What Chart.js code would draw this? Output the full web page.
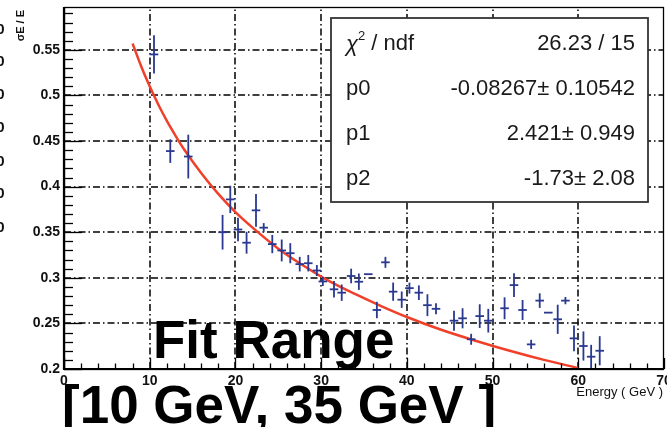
<!DOCTYPE html>
<html><head><meta charset="utf-8">
<script src="https://cdn.jsdelivr.net/npm/chart.js@4/dist/chart.umd.min.js"></script>
<style>html,body{margin:0;padding:0;background:#fff;overflow:hidden}canvas{display:block}</style>
</head><body>
<canvas id="c" width="667" height="427"></canvas>
<script>
// ---- data ----
const energy = [10.5, 12.4, 14.5, 18.5, 19.4, 20.3, 21.3, 22.4, 23.3, 24.3, 25.4, 26.4, 27.5, 28.5, 29.5, 30.2, 31.5, 32.4, 33.5, 34.4, 35.5, 36.5, 37.5, 38.4, 39.4, 40.3, 41.4, 42.4, 43.4, 45.5, 46.5, 47.5, 48.5, 49.5, 51.4, 52.5, 53.5, 54.5, 55.5, 56.5, 57.6, 58.5, 59.5, 60.6, 61.5, 62.5];
const resolution = [0.545, 0.439, 0.433, 0.350, 0.386, 0.353, 0.3385, 0.374, 0.355, 0.337, 0.330, 0.327, 0.315, 0.316, 0.308, 0.296, 0.2874, 0.2837, 0.302, 0.2957, 0.304, 0.2647, 0.317, 0.2848, 0.276, 0.2887, 0.2837, 0.270, 0.266, 0.253, 0.2556, 0.2326, 0.258, 0.253, 0.2666, 0.292, 0.2647, 0.227, 0.275, 0.2618, 0.2545, 0.275, 0.2336, 0.2252, 0.2135, 0.220];
const resolutionErr = [0.021, 0.013, 0.024, 0.019, 0.015, 0.013, 0.012, 0.018, 0.005, 0.010, 0.012, 0.011, 0.008, 0.009, 0.006, 0.005, 0.009, 0.009, 0.008, 0.009, 0.0, 0.009, 0.006, 0.010, 0.009, 0.006, 0.008, 0.012, 0.006, 0.011, 0.011, 0.006, 0.013, 0.013, 0.012, 0.013, 0.011, 0.005, 0.008, 0.0, 0.016, 0.004, 0.014, 0.016, 0.013, 0.016];
const energyHalfBin = 0.5;
const fitEnergy = [8, 9, 10, 11, 12, 13, 14, 16, 18, 20, 22, 25, 28, 31, 34, 37, 40, 44, 48, 52, 56, 60];
const fitValue = [0.557, 0.532, 0.510, 0.490, 0.472, 0.456, 0.441, 0.415, 0.392, 0.372, 0.355, 0.332, 0.313, 0.296, 0.282, 0.269, 0.257, 0.243, 0.231, 0.220, 0.210, 0.201];
const xTickValues = [0, 10, 20, 30, 40, 50, 60, 70];
const yTickValues = [0.2, 0.25, 0.3, 0.35, 0.4, 0.45, 0.5, 0.55];
const statNames = ['p0', 'p1', 'p2'];
const statValues = ['-0.08267\u00b1 0.10542', '2.421\u00b1 0.949', '-1.73\u00b1 2.08'];
const chiValue = '26.23 / 15';
const xTitle = 'Energy ( GeV )';
const yTitle = '\u03c3E / E';
const noteLine1 = 'Fit Range';
const noteLine2 = '[10 GeV, 35 GeV ]';

const FONT = '"Liberation Sans", Arial, Helvetica, sans-serif';
const BLUE = '#2a3890';

const rootStyle = {
  id: 'rootStyle',
  beforeDatasetsDraw(chart) {
    const {ctx, chartArea: a, scales: {x, y}} = chart;
    ctx.save();
    ctx.strokeStyle = '#000';
    ctx.lineWidth = 1.5;
    ctx.setLineDash([7, 3, 1.5, 3]);
    xTickValues.forEach(v => {
      if (v <= x.min || v >= x.max) return;
      const px = Math.round(x.getPixelForValue(v));
      ctx.beginPath(); ctx.moveTo(px, a.bottom); ctx.lineTo(px, a.top); ctx.stroke();
    });
    yTickValues.forEach(v => {
      if (v <= y.min + 1e-9) return;
      const py = Math.round(y.getPixelForValue(v));
      ctx.beginPath(); ctx.moveTo(a.left, py); ctx.lineTo(a.right, py); ctx.stroke();
    });
    ctx.restore();
  },
  afterDatasetsDraw(chart) {
    const {ctx, chartArea: a, scales: {x, y}} = chart;
    ctx.save();
    ctx.beginPath(); ctx.rect(a.left, a.top, a.right - a.left, a.bottom - a.top); ctx.clip();
    ctx.strokeStyle = BLUE; ctx.lineWidth = 1.8; ctx.setLineDash([]);
    energy.forEach((e, i) => {
      const px = x.getPixelForValue(e), py = y.getPixelForValue(resolution[i]);
      const err = resolutionErr[i];
      if (err > 0) {
        ctx.beginPath();
        ctx.moveTo(px, y.getPixelForValue(resolution[i] - err));
        ctx.lineTo(px, y.getPixelForValue(resolution[i] + err));
        ctx.stroke();
      }
      ctx.beginPath();
      ctx.moveTo(x.getPixelForValue(e - energyHalfBin), py);
      ctx.lineTo(x.getPixelForValue(e + energyHalfBin), py);
      ctx.stroke();
    });
    ctx.restore();
  },
  afterDraw(chart) {
    const {ctx, chartArea: a, scales: {x, y}} = chart;
    ctx.save();
    ctx.setLineDash([]);
    // inward ticks
    ctx.strokeStyle = '#000'; ctx.lineWidth = 1.3;
    for (let k = 20; k < 60; k++) {
      const py = Math.round(y.getPixelForValue(k / 100)) + 0.5;
      const len = (k % 5 === 0) ? 18 : 9;
      ctx.beginPath(); ctx.moveTo(a.left, py); ctx.lineTo(a.left + len, py); ctx.stroke();
    }
    for (let k = 0; k <= 70; k += 2) {
      const px = Math.round(x.getPixelForValue(k)) + 0.5;
      const len = (k % 10 === 0) ? 11 : 5.5;
      ctx.beginPath(); ctx.moveTo(px, a.bottom); ctx.lineTo(px, a.bottom - len); ctx.stroke();
    }
    // frame
    ctx.lineWidth = 1.3;
    ctx.strokeRect(a.left + 0.5, a.top + 0.5, a.right - a.left - 1, a.bottom - a.top);
    ctx.lineWidth = 2.2;
    ctx.beginPath(); ctx.moveTo(a.left, a.top); ctx.lineTo(a.left, a.bottom); ctx.lineTo(a.right, a.bottom); ctx.stroke();

    // stats box
    const bx = 331, by = 18, bw = 317, bh = 184;
    ctx.fillStyle = '#fff'; ctx.fillRect(bx, by, bw, bh);
    ctx.strokeStyle = '#333'; ctx.lineWidth = 1.8; ctx.strokeRect(bx, by, bw, bh);
    ctx.fillStyle = '#1a1a1a'; ctx.textBaseline = 'middle';
    ctx.font = 'italic 22px ' + FONT; ctx.textAlign = 'left';
    ctx.fillText('\u03c7', 346, 45);
    let w = ctx.measureText('\u03c7').width;
    ctx.font = '13px ' + FONT;
    ctx.fillText('2', 346 + w, 36);
    const w2 = ctx.measureText('2').width;
    ctx.font = '22px ' + FONT;
    ctx.fillText(' / ndf', 346 + w + w2, 44);
    ctx.textAlign = 'right';
    ctx.fillText(chiValue, 635, 44);
    statNames.forEach((n, i) => {
      const ry = 89 + i * 45;
      ctx.textAlign = 'left'; ctx.fillText(n, 346, ry);
      ctx.textAlign = 'right'; ctx.fillText(statValues[i], 635, ry);
    });

    // axis titles
    ctx.fillStyle = '#111';
    ctx.font = '13px ' + FONT; ctx.textAlign = 'right'; ctx.textBaseline = 'middle';
    ctx.fillText(xTitle, 663, 392);
    ctx.save();
    ctx.translate(21, 10); ctx.rotate(-Math.PI / 2);
    ctx.font = 'bold 11px ' + FONT; ctx.textAlign = 'right';
    ctx.fillText(yTitle, 0, 0);
    ctx.restore();

    // clipped labels of a neighbouring panel at the left edge
    ctx.font = 'bold 15px ' + FONT; ctx.textAlign = 'right'; ctx.fillStyle = '#111';
    [30, 62, 95, 128, 162, 194, 228].forEach(ry => ctx.fillText('0', 4.5, ry));

    // big annotation
    ctx.fillStyle = '#000'; ctx.textAlign = 'left'; ctx.textBaseline = 'alphabetic';
    ctx.font = 'bold 53px ' + FONT;
    ctx.fillText(noteLine1, 153, 358);
    ctx.fillText(noteLine2, 62, 423);
    ctx.restore();
  }
};

new Chart(document.getElementById('c'), {
  type: 'scatter',
  data: {
    datasets: [
      {
        type: 'line', label: 'fit',
        data: fitEnergy.map((e, i) => ({x: e, y: fitValue[i]})),
        borderColor: '#f0402a', borderWidth: 2.5, pointRadius: 0,
        cubicInterpolationMode: 'monotone', fill: false
      },
      {
        label: 'data',
        data: energy.map((e, i) => ({x: e, y: resolution[i]})),
        pointRadius: 0, showLine: false, borderColor: BLUE, backgroundColor: BLUE
      }
    ]
  },
  options: {
    responsive: false, animation: false, devicePixelRatio: 1, events: [],
    layout: {padding: {left: 0, right: 3, top: 7, bottom: 0}},
    plugins: {legend: {display: false}, tooltip: {enabled: false}},
    scales: {
      x: {
        type: 'linear', min: 0, max: 70,
        grid: {display: false, drawTicks: false}, border: {display: false},
        afterBuildTicks(s) { s.ticks = xTickValues.map(v => ({value: v})); },
        ticks: {autoSkip: false, maxRotation: 0, minRotation: 0, padding: 4, color: '#111',
                font: {family: FONT, size: 14, weight: 'bold'}},
        afterFit(s) { s.height = 58; s.paddingLeft = 0; s.paddingRight = 0; }
      },
      y: {
        type: 'linear', min: 0.2, max: 0.597,
        grid: {display: false, drawTicks: false}, border: {display: false},
        afterBuildTicks(s) { s.ticks = yTickValues.map(v => ({value: v})); },
        ticks: {autoSkip: false, padding: 4, color: '#111',
                font: {family: FONT, size: 14, weight: 'bold'},
                callback: v => String(+(+v).toFixed(2))},
        afterFit(s) { s.width = 64; s.paddingTop = 0; s.paddingBottom = 0; }
      }
    }
  },
  plugins: [rootStyle]
});
</script>
</body></html>
